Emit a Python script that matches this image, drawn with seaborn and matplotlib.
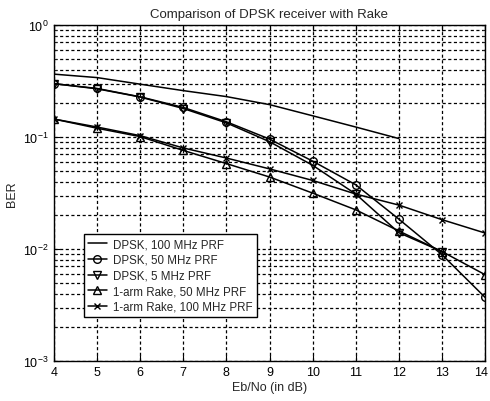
import numpy as np
import pandas as pd
import seaborn as sns
import matplotlib
matplotlib.use("Agg")
import matplotlib.pyplot as plt
import matplotlib.transforms as mtransforms
from matplotlib.ticker import LogLocator, NullFormatter

# ---- data ----
ebno = [4, 5, 6, 7, 8, 9, 10, 11, 12, 13, 14]
dpsk_100 = [0.365, 0.34, 0.297, 0.26, 0.23, 0.195, 0.155, 0.123, 0.097]
dpsk_50 = [0.30, 0.272, 0.229, 0.184, 0.137, 0.096, 0.061, 0.0375, 0.0185, 0.0089, 0.0037]
dpsk_5 = [0.30, 0.27, 0.228, 0.18, 0.134, 0.091, 0.056, 0.031, 0.014, 0.0095]
rake_50 = [0.145, 0.12, 0.101, 0.076, 0.058, 0.044, 0.0316, 0.0224, 0.0145, 0.0095, 0.0059]
rake_100 = [0.145, 0.123, 0.103, 0.08, 0.065, 0.052, 0.041, 0.031, 0.0247, 0.0183, 0.0139]

labels = ["DPSK, 100 MHz PRF", "DPSK, 50 MHz PRF", "DPSK, 5 MHz PRF",
          "1-arm Rake, 50 MHz PRF", "1-arm Rake, 100 MHz PRF"]
series = [dpsk_100, dpsk_50, dpsk_5, rake_50, rake_100]
markers = [None, "o", "v", "^", "x"]

sns.set_style("white")
plt.rcParams["font.family"] = ["Liberation Sans", "DejaVu Sans"]

fig = plt.figure(figsize=(4.9, 4.02), dpi=100)
ax = fig.add_axes([0.110, 0.0995, 0.880, 0.8355])

for vals, lab, mk in zip(series, labels, markers):
    df = pd.DataFrame({"x": ebno[:len(vals)], "y": vals})
    kw = dict(color="black", linewidth=1.1, label=lab, ax=ax)
    if mk is not None:
        kw.update(marker=mk, markersize=5.5 if mk != "x" else 4,
                  markerfacecolor="none", markeredgecolor="black",
                  markeredgewidth=1.0)
    sns.lineplot(data=df, x="x", y="y", **kw)

ax.set_yscale("log")
ax.set_xlim(4, 14)
ax.set_ylim(1e-3, 1)
ax.set_xticks(range(4, 15))
ax.yaxis.set_major_locator(LogLocator(base=10, numticks=10))
ax.yaxis.set_minor_locator(LogLocator(base=10, subs=np.arange(2, 10), numticks=20))
ax.yaxis.set_minor_formatter(NullFormatter())

ax.grid(True, which="major", axis="both", color="black", linestyle=(0, (2.5, 2)), linewidth=0.9)
ax.grid(True, which="minor", axis="y", color="black", linestyle=(0, (2.5, 2)), linewidth=0.9)

for s in ax.spines.values():
    s.set_color("black")
    s.set_linewidth(1.0)
ax.tick_params(axis="both", which="major", direction="in", length=4, labelsize=9,
               colors="black", top=True, right=True, left=True, bottom=True)
ax.tick_params(axis="y", which="minor", direction="in", length=2, left=True, right=True)

ax.set_title("Comparison of DPSK receiver with Rake", fontsize=9.5, pad=6)
ax.set_xlabel("Eb/No (in dB)", fontsize=9, labelpad=2)
ax.set_ylabel("BER", fontsize=9, labelpad=4)

leg = ax.legend(loc="lower left", bbox_to_anchor=(0.069, 0.131), fontsize=8.3,
                frameon=True, fancybox=False, edgecolor="black", framealpha=1,
                borderpad=0.35, labelspacing=0.32, handlelength=1.7,
                handletextpad=0.5, borderaxespad=0)
leg.get_frame().set_linewidth(1.0)

# keep the last x tick label inside the figure
fig.canvas.draw()
last = ax.get_xticklabels()[-1]
last.set_transform(last.get_transform() + mtransforms.ScaledTranslation(-4 / 100, 0, fig.dpi_scale_trans))

fig.savefig("out.png", dpi=100)
